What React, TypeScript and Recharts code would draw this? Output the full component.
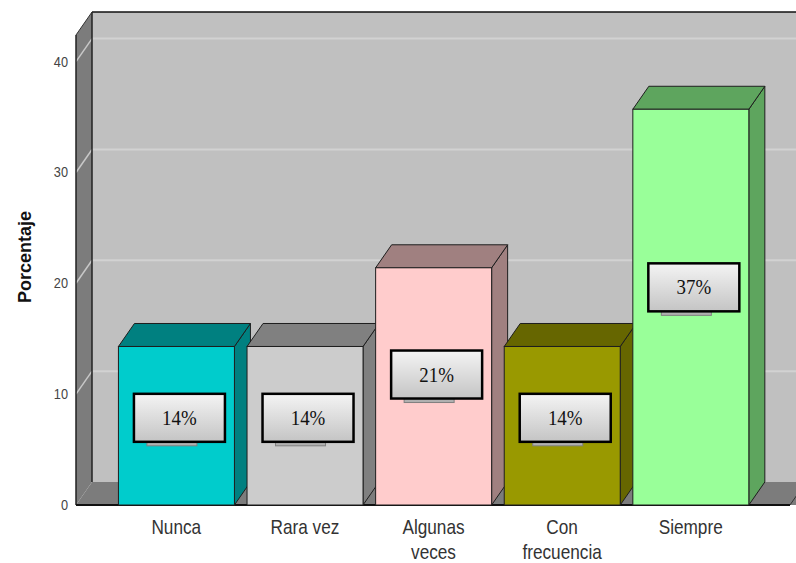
import React from "react";
import { BarChart, Bar, XAxis, YAxis, ReferenceArea, LabelList } from "recharts";

const categories = ["Nunca", "Rara vez", "Algunas veces", "Con frecuencia", "Siempre"];
const tickLines = [["Nunca"], ["Rara vez"], ["Algunas", "veces"], ["Con", "frecuencia"], ["Siempre"]];
const percentages = [14.3, 14.3, 21.4, 14.3, 35.7];
const valueLabels = ["14%", "14%", "21%", "14%", "37%"];
const frontColors = ["#00cccc", "#cccccc", "#ffcccc", "#999900", "#99ff99"];
const shadeColors = ["#008080", "#808080", "#a08080", "#666600", "#5ea55e"];
const yTicks = [0, 10, 20, 30, 40];
const Y_MAX = 42.4;

// depth of the fake 3d
const DX = 16;
const DY = 23;
const PAD_L = 36;
const PAD_R = 35;

const data = categories.map((name, i) => ({
  name,
  value: percentages[i],
  label: valueLabels[i],
  front: frontColors[i],
  shade: shadeColors[i],
}));

const Walls = (props: any) => {
  const { y, height } = props;
  const x = props.x - PAD_L;
  const width = props.width + PAD_L + PAD_R;
  const bottom = y + height;
  const right = x + width;
  const gridYs = yTicks.filter((t) => t > 0).map((t) => y + height * (1 - t / Y_MAX));
  return (
    <g>
      <defs>
        <linearGradient id="boxGrad" x1="0" y1="0" x2="0" y2="1">
          <stop offset="0%" stopColor="#f4f4f4" />
          <stop offset="100%" stopColor="#c4c4c4" />
        </linearGradient>
      </defs>
      <rect x={x + DX} y={y - DY} width={width + 40} height={height} fill="#c0c0c0" />
      {gridYs.map((gy) => (
        <line key={"g" + gy} x1={x + DX} x2={right + DX + 40} y1={gy - DY} y2={gy - DY} stroke="#d2d2d2" strokeWidth={2} />
      ))}
      <polygon
        points={`${x},${y} ${x + DX},${y - DY} ${x + DX},${bottom - DY} ${x},${bottom}`}
        fill="#7c7c7c"
      />
      {gridYs.map((gy) => (
        <line key={"d" + gy} x1={x} y1={gy} x2={x + DX} y2={gy - DY} stroke="#c8c8c8" strokeWidth={1.5} />
      ))}
      <polygon
        points={`${x},${bottom} ${x + DX},${bottom - DY} ${right + DX + 40},${bottom - DY} ${right + 40},${bottom}`}
        fill="#7c7c7c"
      />
      <line x1={x + DX} y1={y - DY} x2={right + DX + 40} y2={y - DY} stroke="#111" strokeWidth={1.5} />
      <line x1={x + DX} y1={y - DY} x2={x + DX} y2={bottom - DY} stroke="#222" strokeWidth={1.5} />
      <line x1={x} y1={y} x2={x + DX} y2={y - DY} stroke="#333" strokeWidth={1} />
      <line x1={x} y1={y} x2={x} y2={bottom} stroke="#222" strokeWidth={1.5} />
      <line x1={x} y1={bottom} x2={right} y2={bottom} stroke="#111" strokeWidth={2} />
      <line x1={right} y1={bottom} x2={right + DX} y2={bottom - DY} stroke="#333" strokeWidth={1} />
    </g>
  );
};

const Bar3D = (props: any) => {
  const { x, y, width, height, payload } = props;
  if (!height) return null;
  const top = `${x},${y} ${x + DX},${y - DY} ${x + width + DX},${y - DY} ${x + width},${y}`;
  const side = `${x + width},${y} ${x + width + DX},${y - DY} ${x + width + DX},${y + height - DY} ${x + width},${y + height}`;
  return (
    <g stroke="#1e1e1e" strokeWidth={1}>
      <polygon points={side} fill={payload.shade} />
      <polygon points={top} fill={payload.shade} />
      <rect x={x} y={y} width={width} height={height} fill={payload.front} />
    </g>
  );
};

const ValueBox = (props: any) => {
  const { x, y, width, height, value } = props;
  const cx = x + width / 2 + 3;
  const cy = y + height * 0.45;
  const bw = 91;
  const bh = 48;
  return (
    <g>
      <rect x={cx - bw / 2 + 13} y={cy + bh / 2 - 1} width={50} height={5} fill="#b0b0b0" stroke="#808080" />
      <rect x={cx - bw / 2} y={cy - bh / 2} width={bw} height={bh} fill="url(#boxGrad)" stroke="#000" strokeWidth={2.5} />
      <text
        transform={`translate(${cx},${cy + 7}) scale(0.9,1)`}
        textAnchor="middle"
        fontFamily="'Liberation Serif', 'Times New Roman', serif"
        fontSize={21}
        fill="#111"
      >
        {value}
      </text>
    </g>
  );
};

const CategoryTick = (props: any) => {
  const { x, y, payload, index } = props;
  const lines = tickLines[index] || [payload.value];
  return (
    <g>
      {lines.map((ln: string, i: number) => (
        <text
          key={i}
          transform={`translate(${x},${y + 21 + i * 25}) scale(0.82,1)`}
          textAnchor="middle"
          fontFamily="'Liberation Sans', Arial, sans-serif"
          fontSize={21}
          fill="#333"
        >
          {ln}
        </text>
      ))}
    </g>
  );
};

const ValueTick = (props: any) => {
  const { x, y, payload } = props;
  return (
    <text
      transform={`translate(${x},${y + 5}) scale(0.85,1)`}
      textAnchor="end"
      fontFamily="'Liberation Sans', Arial, sans-serif"
      fontSize={15}
      fill="#444"
    >
      {payload.value}
    </text>
  );
};

const AxisTitle = () => (
  <text
    transform="translate(31,257) rotate(-90)"
    textAnchor="middle"
    fontFamily="'Liberation Sans', Arial, sans-serif"
    fontWeight="bold"
    fontSize={18}
    fill="#111"
  >
    Porcentaje
  </text>
);

export default function App() {
  return (
    <div style={{ position: "absolute", left: 0, top: 0, background: "#fff" }}>
      <BarChart
        width={796}
        height={563}
        data={data}
        margin={{ top: 35, right: 6, bottom: 0, left: 0 }}
        barCategoryGap="5%"
      >
        <ReferenceArea y1={0} y2={Y_MAX} shape={<Walls />} ifOverflow="visible" />
        <XAxis
          dataKey="name"
          height={58}
          axisLine={false}
          tickLine={false}
          interval={0}
          padding={{ left: PAD_L, right: PAD_R }}
          tick={<CategoryTick />}
        />
        <YAxis
          width={76}
          domain={[0, Y_MAX]}
          ticks={yTicks}
          axisLine={false}
          tickLine={false}
          tick={<ValueTick />}
          label={{ content: () => <AxisTitle /> }}
        />
        <Bar dataKey="value" shape={<Bar3D />} isAnimationActive={false}>
          <LabelList dataKey="label" content={<ValueBox />} />
        </Bar>
      </BarChart>
    </div>
  );
}
